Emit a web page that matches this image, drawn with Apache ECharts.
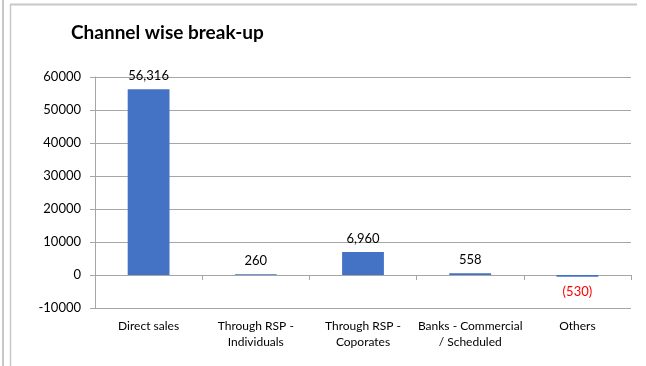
<!DOCTYPE html>
<html>
<head>
<meta charset="utf-8">
<script src="https://cdn.jsdelivr.net/npm/echarts@6/dist/echarts.min.js"></script>
<style>
  html, body { margin: 0; padding: 0; background: #fff; }
  #chart { width: 646px; height: 366px; }
</style>
</head>
<body>
<div id="chart"></div>
<script>
  // values
  let categories = ['Direct sales', 'Through RSP -\nIndividuals', 'Through RSP -\nCoporates', 'Banks - Commercial\n/ Scheduled', 'Others'];
  let values = [56316, 260, 6960, 558, -530];
  let yTicks = [-10000, 0, 10000, 20000, 30000, 40000, 50000, 60000];

  let font = 'Lato, "Open Sans", sans-serif';
  let myChart = echarts.init(document.getElementById('chart'));

  let barData = values.map(function (v) {
    if (v < 0) {
      return {
        value: v,
        label: {
          position: 'bottom',
          distance: 9,
          color: '#ff0000'
        }
      };
    }
    return v;
  });

  let option = {
    animation: false,
    textStyle: { fontFamily: font },
    title: {
      text: 'Channel wise break-up',
      left: 66,
      top: 18,
      textStyle: { fontSize: 19, fontWeight: 'bold', color: '#000', fontFamily: font }
    },
    grid: { left: 95, right: 15, top: 77, bottom: 58, outerBoundsMode: 'none', containLabel: false },
    xAxis: {
      type: 'category',
      data: categories,
      axisLine: { onZero: true, lineStyle: { color: '#a6a6a6', width: 1 } },
      axisTick: { show: true, length: 5, lineStyle: { color: '#a6a6a6' } },
      axisLabel: {
        margin: 10,
        fontSize: 12,
        lineHeight: 16,
        color: '#000',
        interval: 0
      }
    },
    yAxis: {
      type: 'value',
      min: yTicks[0],
      max: yTicks[yTicks.length - 1],
      interval: 10000,
      axisLine: { show: true, lineStyle: { color: '#a6a6a6' } },
      axisTick: { show: true, length: 5, lineStyle: { color: '#a6a6a6' } },
      splitLine: { show: true, lineStyle: { color: '#a6a6a6', width: 1 } },
      axisLabel: {
        margin: 14,
        fontSize: 13,
        color: '#000',
        formatter: function (v) { return String(v); }
      }
    },
    series: [
      {
        type: 'bar',
        data: barData,
        barWidth: '39%',
        itemStyle: { color: '#4472C4' },
        label: {
          show: true,
          position: 'top',
          distance: 7,
          fontSize: 13,
          color: '#000',
          formatter: function (p) {
            let v = p.value;
            if (v < 0) return '(' + Math.abs(v).toLocaleString('en-US') + ')';
            return v.toLocaleString('en-US');
          }
        }
      }
    ],
    graphic: [
      { type: 'line', shape: { x1: 3, y1: 0, x2: 3, y2: 366 }, style: { stroke: '#c8c8c8', lineWidth: 2 } },
      { type: 'line', shape: { x1: 10.5, y1: 4, x2: 10.5, y2: 366 }, style: { stroke: '#c8c8c8', lineWidth: 1.5 } },
      { type: 'line', shape: { x1: 10, y1: 4.5, x2: 637, y2: 4.5 }, style: { stroke: '#c8c8c8', lineWidth: 2 } }
    ]
  };
  myChart.setOption(option, true);
</script>
</body>
</html>
